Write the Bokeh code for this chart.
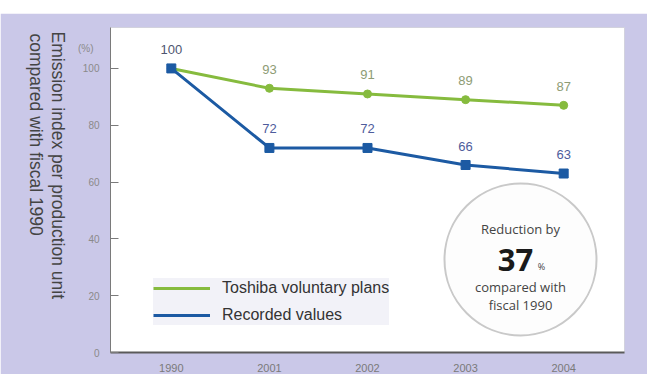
import numpy as np
from bokeh.plotting import figure
from bokeh.models import (ColumnDataSource, Label, Legend, LegendItem,
                          FixedTicker, Range1d, LinearAxis)
from bokeh.embed import file_html
from bokeh.resources import INLINE
from bokeh.core.properties import value

# ---- data -------------------------------------------------------------
years = ["1990", "2001", "2002", "2003", "2004"]
plan_values = [100, 93, 91, 89, 87]          # Toshiba voluntary plans
recorded_values = [100, 72, 72, 66, 63]      # Recorded values
y_ticks = [0, 20, 40, 60, 80, 100]
reduction_pct = 37
y_title_lines = ["Emission index per production unit",
                 "compared with fiscal 1990"]

# ---- styling ----------------------------------------------------------
LAVENDER = "#cac8e8"
GREEN = "#86bb3e"
BLUE = "#1c5aa3"
FONT = "Liberation Sans"
BADGE_FONT = "Open Sans"
NBSP = "\u00a0"

# page-pixel geometry of the plotting frame
PAGE_L, PAGE_T = 0, 13           # white page strip left / top
FR_L, FR_T, FR_R, FR_B = 110, 27, 624, 352
W, H = 647 - PAGE_L, 374 - PAGE_T
X0, X1 = -0.62, 4.62
Y0, Y1 = 0, 114.4
UNIT_POS = 107                   # height of the "(%)" unit marker


def dx(px):
    """page x pixel -> data x"""
    return X0 + (px - FR_L) / (FR_R - FR_L) * (X1 - X0)


def dy(py):
    """page y pixel -> data y"""
    return Y0 + (FR_B - py) / (FR_B - FR_T) * (Y1 - Y0)


p = figure(width=W, height=H,
           x_range=Range1d(X0, X1), y_range=Range1d(Y0, Y1),
           output_backend="svg", toolbar_location=None,
           min_border_left=FR_L - PAGE_L, min_border_right=W - (FR_R - PAGE_L),
           min_border_top=FR_T - PAGE_T, min_border_bottom=H - (FR_B - PAGE_T),
           border_fill_color=LAVENDER, background_fill_color="white",
           outline_line_color="#c4c4d2", outline_line_alpha=0.7)
p.margin = (PAGE_T, 0, 0, PAGE_L)
p.xgrid.visible = False
p.ygrid.visible = False

# ---- axes -------------------------------------------------------------
xs = list(range(len(years)))
p.xaxis.ticker = FixedTicker(ticks=xs)
p.xaxis.major_label_overrides = {i: y for i, y in zip(xs, years)}
p.xaxis.major_tick_line_color = None
p.xaxis.minor_tick_line_color = None
p.xaxis.axis_line_color = "#5a5a5a"
p.xaxis.axis_line_width = 2
p.xaxis.major_label_standoff = 5
p.xaxis.major_label_text_font = FONT
p.xaxis.major_label_text_font_size = "11px"
p.xaxis.major_label_text_color = "#7a7a7a"

p.yaxis.ticker = FixedTicker(ticks=y_ticks)
p.yaxis.minor_tick_line_color = None
p.yaxis.axis_line_color = "#7a7a7a"
p.yaxis.major_tick_line_color = "#7a7a7a"
p.yaxis.major_tick_in = 8
p.yaxis.major_tick_out = 0
p.yaxis.major_label_standoff = 11
p.yaxis.major_label_text_font = FONT
p.yaxis.major_label_text_font_size = "10px"
p.yaxis.major_label_text_color = "#8a8a8a"

# rotated title reads top to bottom; it is anchored at the lower end of
# the axis, so trailing no-break spaces lift each line to start near the top
title_text = "\n".join([y_title_lines[0] + NBSP * 11,
                        y_title_lines[1] + NBSP * 24])

# outer left axis: carries the "(%)" unit and the rotated title
unit_axis = LinearAxis(ticker=FixedTicker(ticks=[UNIT_POS]),
                       major_label_overrides={UNIT_POS: "(%)"},
                       axis_line_color=None, major_tick_line_color=None,
                       minor_tick_line_color=None, major_tick_out=0,
                       major_tick_in=0, major_label_standoff=-14,
                       major_label_text_font=FONT,
                       major_label_text_font_size="10px",
                       major_label_text_color="#8a8a8a",
                       axis_label=title_text, axis_label_standoff=28,
                       axis_label_text_font=FONT,
                       axis_label_text_font_size="17.5px",
                       axis_label_text_font_style="normal",
                       axis_label_text_line_height=1.1,
                       axis_label_text_color="#444444")
unit_axis.axis_label_orientation = -np.pi / 2
unit_axis.axis_label_align = "start"
p.add_layout(unit_axis, "left")

# ---- series -----------------------------------------------------------
src = ColumnDataSource(dict(x=xs, plan=plan_values, rec=recorded_values))

green_line = p.line("x", "plan", source=src, line_color=GREEN, line_width=3)
p.scatter("x", "plan", source=src, marker="circle", size=8,
          fill_color=GREEN, line_color=GREEN)
blue_line = p.line("x", "rec", source=src, line_color=BLUE, line_width=3)
p.scatter("x", "rec", source=src, marker="square", size=9,
          fill_color=BLUE, line_color=BLUE)

# value labels (the shared 1990 start value is labelled once)
later = ColumnDataSource(dict(x=xs[1:], plan=plan_values[1:],
                              rec=recorded_values[1:],
                              plan_lbl=[str(v) for v in plan_values[1:]],
                              rec_lbl=[str(v) for v in recorded_values[1:]]))
common = dict(text_align="center", text_baseline="middle", y_offset=-19,
              text_font=value(FONT), text_font_size="13px")
p.text("x", "plan", text="plan_lbl", source=later,
       text_color="#8e9c74", **common)
p.text("x", "rec", text="rec_lbl", source=later,
       text_color="#4e5c9c", **common)
p.text(x=[xs[0]], y=[recorded_values[0]], text=[str(recorded_values[0])],
       text_color="#4e5670", **common)

# ---- legend -----------------------------------------------------------
legend = Legend(items=[LegendItem(label="Toshiba voluntary plans", renderers=[green_line]),
                       LegendItem(label="Recorded values", renderers=[blue_line])],
                location=(43, 27), background_fill_color="#f2f2f8",
                background_fill_alpha=1.0, border_line_color=None,
                label_text_font=FONT, label_text_font_size="16px",
                label_text_color="#333333", glyph_width=57, glyph_height=20,
                label_height=20, spacing=7, padding=10, margin=0,
                label_standoff=12)
p.add_layout(legend)

# ---- reduction badge --------------------------------------------------
cx, cy = 520, 259
p.scatter([dx(cx)], [dy(cy)], marker="circle", size=152,
          fill_color="#fdfdfd", line_color="#c9c9c9", line_width=2)
badge = dict(text_align="center", text_baseline="middle",
             text_font=BADGE_FONT, text_color="#444444")
p.add_layout(Label(x=dx(cx), y=dy(228), text="Reduction by",
                   text_font_size="13px", **badge))
p.add_layout(Label(x=dx(515), y=dy(259), text=str(reduction_pct),
                   text_font_size="31px", text_font_style="bold",
                   text_align="center", text_baseline="middle",
                   text_font=BADGE_FONT, text_color="#1a1a1a"))
p.add_layout(Label(x=dx(541), y=dy(266), text="%", text_font_size="9px",
                   **badge))
p.add_layout(Label(x=dx(cx), y=dy(286), text="compared with",
                   text_font_size="13px", **badge))
p.add_layout(Label(x=dx(cx), y=dy(304), text="fiscal 1990",
                   text_font_size="13px", **badge))

open("out.html", "w").write(file_html(p, INLINE))
